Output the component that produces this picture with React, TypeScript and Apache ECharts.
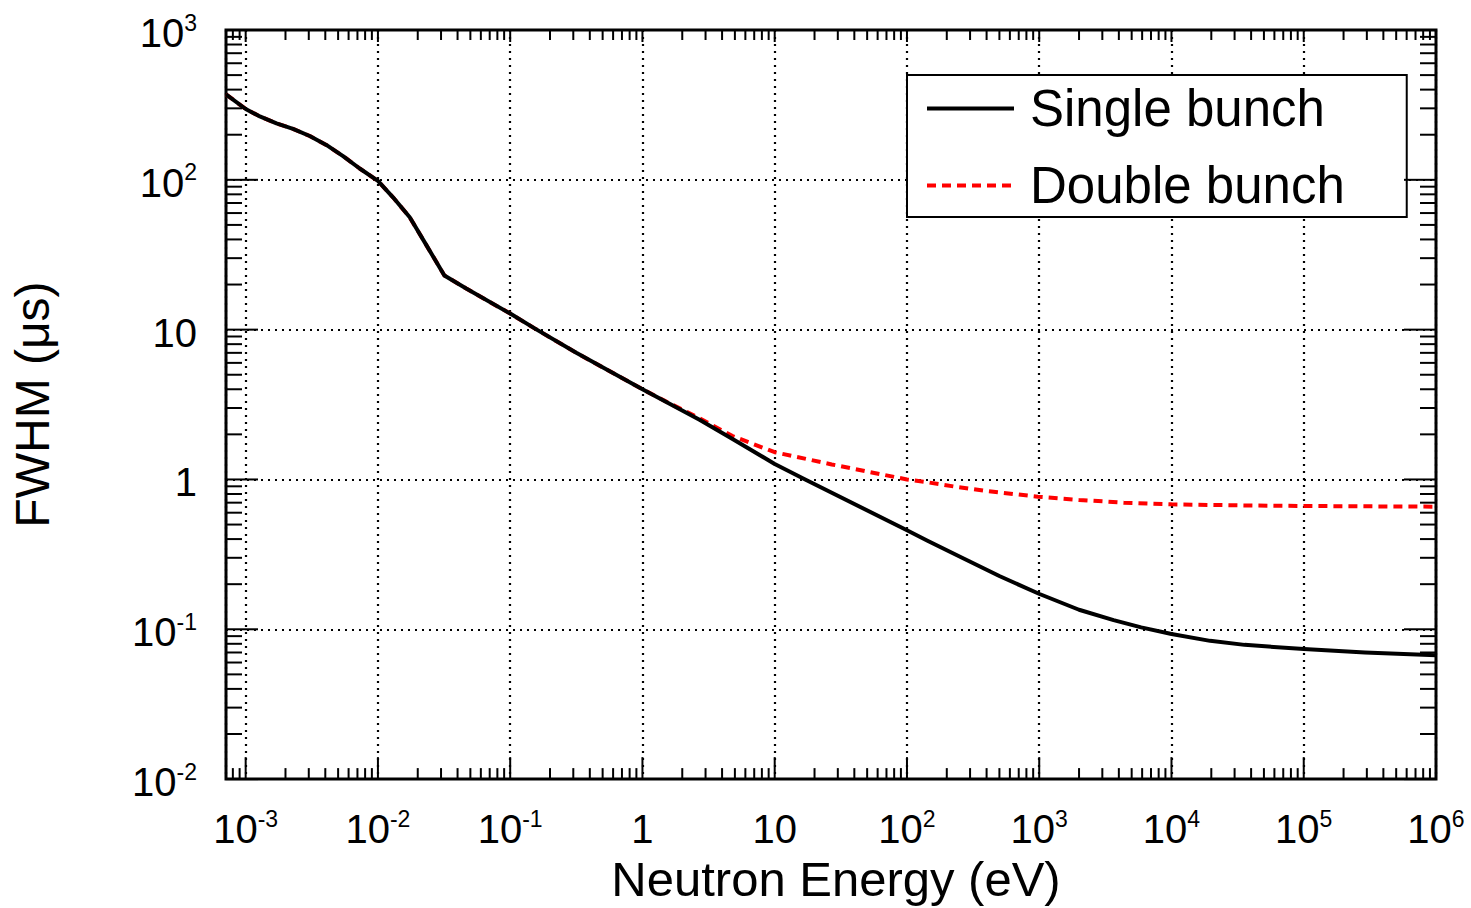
import React, { useEffect, useRef } from 'react';
import * as echarts from 'echarts';

const FONT = "'Liberation Sans', Arial, Helvetica, sans-serif";

// Axis ranges
const X_MIN = 7.1e-4;
const X_MAX = 1e6;
const Y_MIN = 1e-2;
const Y_MAX = 1e3;

// Single bunch curve
const singleEnergy = [7.1e-4, 1.0e-3, 1.28e-3, 1.71e-3, 2.28e-3, 3.05e-3, 4.07e-3, 5.45e-3, 7.28e-3, 1.0e-2, 1.3e-2, 1.74e-2, 2.33e-2, 3.18e-2, 4.65e-2, 0.1, 0.153, 0.316, 1, 2.7, 4.8, 10, 17, 100, 143, 261, 504, 1005, 2000, 3650, 5900, 1.0e4, 1.96e4, 3.57e4, 1e5, 2.9e5, 1e6];
const singleFwhm = [372, 297, 265, 238, 219, 196, 171, 144, 119, 98.4, 76.4, 56.2, 36.5, 23.0, 18.8, 12.8, 10.2, 7.0, 4.0, 2.5, 1.86, 1.27, 1.0, 0.458, 0.39, 0.30, 0.226, 0.172, 0.135, 0.115, 0.103, 0.093, 0.0837, 0.0787, 0.0738, 0.0701, 0.067];

// Double bunch curve
const doubleEnergy = [7.1e-4, 1.0e-3, 1.28e-3, 1.71e-3, 2.28e-3, 3.05e-3, 4.07e-3, 5.45e-3, 7.28e-3, 1.0e-2, 1.3e-2, 1.74e-2, 2.33e-2, 3.18e-2, 4.65e-2, 0.1, 0.153, 0.316, 1, 1.5, 2.7, 4.8, 10, 27, 100, 135, 231, 396, 977, 2000, 4370, 1e4, 3.6e4, 1e5, 3.9e5, 1e6];
const doubleFwhm = [372, 297, 265, 238, 219, 196, 171, 144, 119, 98.4, 76.4, 56.2, 36.5, 23.0, 18.8, 12.8, 10.2, 7.0, 4.0, 3.32, 2.56, 1.95, 1.52, 1.26, 1.0, 0.965, 0.895, 0.838, 0.767, 0.73, 0.70, 0.682, 0.671, 0.665, 0.661, 0.658];

// Tick positions
const xMajorTicks = [1e-3, 1e-2, 1e-1, 1, 10, 1e2, 1e3, 1e4, 1e5, 1e6];
const yMajorTicks = [1e-2, 1e-1, 1, 10, 1e2, 1e3];
const minorMultipliers = [2, 3, 4, 5, 6, 7, 8, 9];
const decades = [-4, -3, -2, -1, 0, 1, 2, 3, 4, 5];

function minorTicks(lo: number, hi: number): number[] {
  const out: number[] = [];
  for (const k of decades) {
    for (const m of minorMultipliers) {
      const v = m * Math.pow(10, k);
      if (v > lo * 1.0001 && v < hi * 0.9999) out.push(v);
    }
  }
  return out;
}

function powLabel(value: number): string {
  const lg = Math.log10(value);
  const e = Math.round(lg);
  if (Math.abs(lg - e) > 1e-6) return '';
  if (e === 0) return '{b|1}';
  if (e === 1) return '{b|10}';
  return `{b|10}{s|${e}}`;
}

const labelRich = {
  b: { fontSize: 40, fontFamily: FONT, color: '#000', lineHeight: 44 },
  s: { fontSize: 23, fontFamily: FONT, color: '#000', lineHeight: 18, verticalAlign: 'top' },
};

export default function App() {
  const ref = useRef<HTMLDivElement>(null);

  useEffect(() => {
    if (!ref.current) return;
    const chart = echarts.init(ref.current, undefined, { renderer: 'svg' });

    const xTickData = [
      ...xMajorTicks.map((v) => [v, 1, 1]),
      ...minorTicks(X_MIN, X_MAX).map((v) => [v, 1, 0]),
    ];
    const yTickData = [
      ...yMajorTicks.map((v) => [1, v, 1]),
      ...minorTicks(Y_MIN, Y_MAX).map((v) => [1, v, 0]),
    ];
    const tickStyle = { stroke: '#000', lineWidth: 2 };

    const option: any = {
      animation: false,
      backgroundColor: '#fff',
      grid: {
        left: 226,
        right: 35,
        top: 30,
        bottom: 125,
        show: true,
        borderColor: '#000',
        borderWidth: 3,
        backgroundColor: 'transparent',
      },
      xAxis: {
        type: 'log',
        logBase: 10,
        min: X_MIN,
        max: X_MAX,
        splitNumber: 10,
        name: 'Neutron Energy (eV)',
        nameLocation: 'middle',
        nameGap: 73,
        nameTextStyle: { fontSize: 49, fontFamily: FONT, color: '#000', padding: [0, 0, 0, 10] },
        axisLine: { show: false },
        axisTick: { show: false },
        axisLabel: {
          margin: 28,
          formatter: powLabel,
          rich: labelRich,
          showMinLabel: true,
          showMaxLabel: true,
        },
        splitLine: { show: true, lineStyle: { color: '#000', width: 2.2, type: [2, 5] } },
      },
      yAxis: {
        type: 'log',
        logBase: 10,
        min: Y_MIN,
        max: Y_MAX,
        splitNumber: 5,
        name: 'FWHM (μs)',
        nameLocation: 'middle',
        nameGap: 170,
        nameTextStyle: { fontSize: 48, fontFamily: FONT, color: '#000' },
        axisLine: { show: false },
        axisTick: { show: false },
        axisLabel: {
          margin: 29,
          formatter: powLabel,
          rich: labelRich,
          padding: [6, 0, 0, 0],
          showMinLabel: true,
          showMaxLabel: true,
        },
        splitLine: { show: true, lineStyle: { color: '#000', width: 2.2, type: [2, 5] } },
      },
      legend: {
        data: ['Single bunch', 'Double bunch'],
        orient: 'vertical',
        left: 907,
        top: 75,
        padding: [8, 62, 6, 18],
        itemGap: 26,
        itemWidth: 87,
        itemHeight: 20,
        borderColor: '#000',
        borderWidth: 2,
        borderRadius: 0,
        backgroundColor: '#fff',
        selectedMode: false,
        itemStyle: { opacity: 0 },
        lineStyle: { width: 4 },
        textStyle: { fontSize: 51, fontFamily: FONT, color: '#000', padding: [0, 0, 0, 11] },
      },
      series: [
        {
          name: 'Single bunch',
          type: 'line',
          data: singleEnergy.map((e, i) => [e, singleFwhm[i]]),
          symbol: 'none',
          showSymbol: false,
          smooth: false,
          lineStyle: { color: '#000', width: 4, join: 'round' },
          itemStyle: { color: '#000' },
          z: 4,
        },
        {
          name: 'Double bunch',
          type: 'line',
          data: doubleEnergy.map((e, i) => [e, doubleFwhm[i]]),
          symbol: 'none',
          showSymbol: false,
          smooth: false,
          lineStyle: { color: '#ff0000', width: 4, type: [9, 6] },
          itemStyle: { color: '#ff0000' },
          z: 3,
        },
        {
          name: 'xticks',
          type: 'custom',
          silent: true,
          z: 5,
          encode: { x: 0, y: 1 },
          data: xTickData,
          renderItem: (params: any, api: any) => {
            const cs = params.coordSys;
            const v = api.value(0);
            const major = api.value(2) === 1;
            const px = api.coord([v, 1])[0];
            const lb = major ? 22 : 11;
            const lt = major ? 12 : 10;
            const yb = cs.y + cs.height;
            return {
              type: 'group',
              children: [
                { type: 'line', shape: { x1: px, y1: yb, x2: px, y2: yb - lb }, style: tickStyle },
                { type: 'line', shape: { x1: px, y1: cs.y, x2: px, y2: cs.y + lt }, style: tickStyle },
              ],
            };
          },
        },
        {
          name: 'yticks',
          type: 'custom',
          silent: true,
          z: 5,
          encode: { x: 0, y: 1 },
          data: yTickData,
          renderItem: (params: any, api: any) => {
            const cs = params.coordSys;
            const v = api.value(1);
            const major = api.value(2) === 1;
            const py = api.coord([1, v])[1];
            const len = major ? 32 : 16;
            const xr = cs.x + cs.width;
            return {
              type: 'group',
              children: [
                { type: 'line', shape: { x1: cs.x, y1: py, x2: cs.x + len, y2: py }, style: tickStyle },
                { type: 'line', shape: { x1: xr, y1: py, x2: xr - len, y2: py }, style: tickStyle },
              ],
            };
          },
        },
      ],
    };

    chart.setOption(option);
    return () => {
      chart.dispose();
    };
  }, []);

  return (
    <div
      ref={ref}
      style={{ position: 'absolute', left: 0, top: 0, width: 1471, height: 908, background: '#fff' }}
    />
  );
}
